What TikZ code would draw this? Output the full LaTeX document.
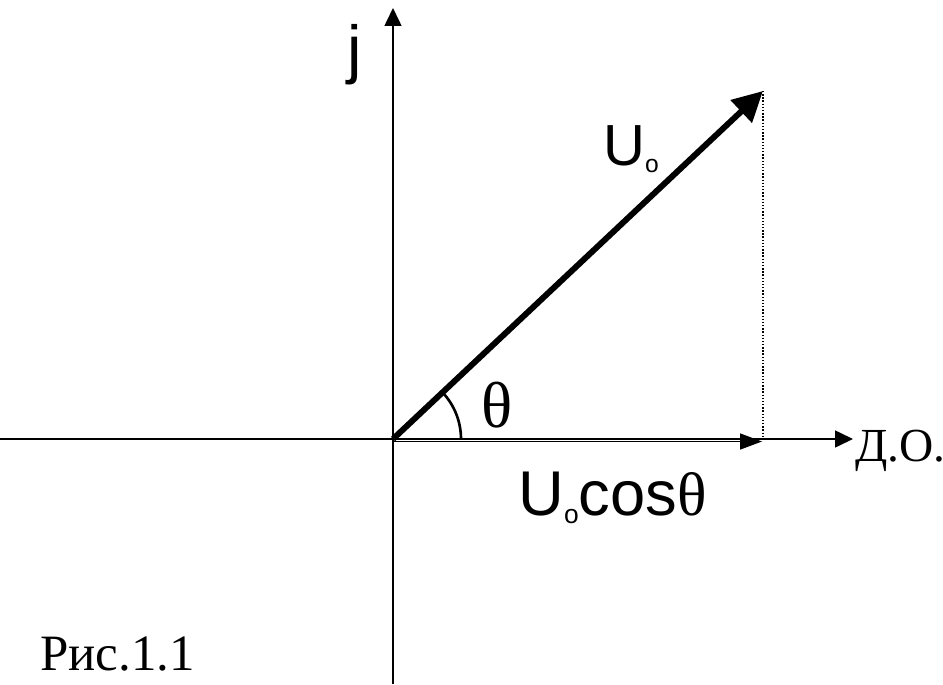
\documentclass[tikz,border=0pt]{standalone}
\usepackage{fontspec}
\setmainfont{Liberation Serif}
\newfontfamily\lblfont{Liberation Sans}
\usetikzlibrary{arrows.meta,positioning}

\begin{document}
\begin{tikzpicture}[
  x=0.02cm, y=0.02cm,
  axis/.style={line width=0.9pt, -{Triangle[length=0.36cm, width=0.34cm]}},
  vect/.style={line width=3.4pt, -{Triangle[length=0.6cm, width=0.6cm]}},
  proj/.style={line width=0.9pt, -{Triangle[length=0.44cm, width=0.32cm]}},
  lbl/.style={font=\lblfont\fontsize{33pt}{33pt}\selectfont, inner sep=0pt},
]
\useasboundingbox (-393,-245) rectangle (550,439);
% axes
\coordinate (O) at (0,0);
\coordinate (ybot) at (0,-245);
\coordinate (ytop) at (0,431);
\coordinate (xleft) at (-393,0);
\coordinate (xright) at (460,0);
\draw[axis] (ybot) -- (ytop);
\draw[axis] (xleft) -- (xright);
% vector and its projection
\coordinate (tip) at (370,348);
\coordinate (foot) at (370,0);
\coordinate (p0) at (0,-2.5);
\coordinate (p1) at (369,-2.5);
\draw[densely dotted, line width=0.8pt] (tip) -- (foot);
\draw[proj] (p0) -- (p1);
\draw[vect] (O) -- (tip);
\draw[line width=1.5pt] (O) ++(68,0) arc[start angle=0, end angle=43.2, radius=68];
% labels
\node[lbl, font=\lblfont\fontsize{37pt}{37pt}\selectfont] (jlab) at (-38,384) {j};
\node[lbl, anchor=base west] (ulab) at (210,274) {U\raisebox{-0.25ex}{\fontsize{14pt}{14pt}\selectfont o}};
\node[inner sep=0pt, font=\fontsize{37pt}{37pt}\selectfont] (thlab) at (104,34) {θ};
\node[lbl, anchor=base west, font=\lblfont\fontsize{36pt}{36pt}\selectfont] (plab) at (125,-76) {U\raisebox{-0.25ex}{\fontsize{15pt}{15pt}\selectfont o}cos{\rmfamily\fontsize{35pt}{35pt}\selectfont θ}};
\node[inner sep=0pt, anchor=base west, font=\fontsize{27pt}{27pt}\selectfont] (dolab) at (462,-22) {Д.О.};
\node[inner sep=0pt, anchor=base west, font=\fontsize{29pt}{29pt}\selectfont] (fig) at (-353,-231) {Рис.1.1};
\end{tikzpicture}
\end{document}
